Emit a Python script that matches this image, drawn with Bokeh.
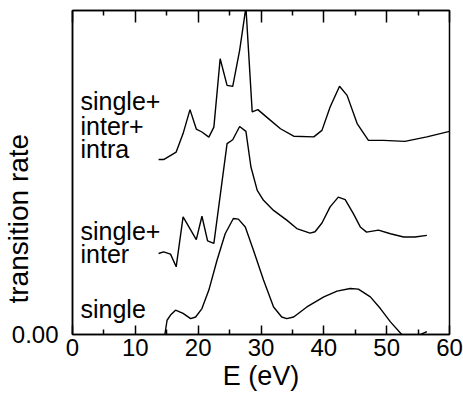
import math
from bokeh.plotting import figure
from bokeh.models import Range1d, LinearAxis, FixedTicker, Label, NumeralTickFormatter, Title
from bokeh.embed import file_html
from bokeh.resources import INLINE

# --- data ---
e_single = [14.7, 15.05, 15.6, 16.4, 17.6, 18.8, 19.6, 20.6, 21.7, 23.0, 24.3, 25.6, 26.4,
            27.5, 28.8, 30.4, 32.0, 33.3, 34.1, 35.2, 37.3, 40.0, 42.1, 44.2, 45.5, 47.4,
            49.0, 50.6, 52.4, 54.0, 55.4, 56.4]
r_single = [0.0, 4.4, 6.0, 7.5, 6.5, 4.9, 5.4, 8.0, 13.7, 22.9, 31.1, 35.8, 35.6,
            33.2, 26.0, 16.8, 8.5, 5.4, 4.9, 5.4, 8.5, 11.6, 13.4, 14.2, 14.0, 11.6,
            8.0, 3.9, 0.0, -2.0, 0.0, 0.9]

e_inter = [13.7, 14.5, 15.6, 16.5, 17.6, 19.7, 20.6, 21.5, 22.5, 24.6, 25.5, 26.6, 27.6,
           28.4, 29.4, 30.4, 32.0, 34.1, 35.7, 37.8, 38.6, 39.7, 41.0, 42.3, 43.4, 44.7,
           45.8, 46.8, 48.7, 50.6, 52.7, 54.5, 56.4]
r_inter = [25.0, 25.5, 24.8, 20.9, 36.3, 29.3, 36.5, 28.9, 28.1, 58.9, 60.1, 64.2, 62.7,
           51.7, 44.5, 41.4, 38.3, 35.3, 32.7, 31.3, 31.7, 34.4, 39.4, 42.4, 41.6, 37.3,
           33.2, 31.6, 32.2, 31.1, 30.1, 30.1, 30.6]

e_intra = [13.7, 14.5, 16.5, 17.6, 18.7, 19.7, 20.6, 21.7, 22.5, 23.5, 24.6, 25.5, 26.6,
           27.6, 28.6, 29.5, 30.9, 33.1, 35.2, 38.4, 39.7, 41.0, 42.5, 43.7, 45.3, 47.1,
           49.5, 52.9, 56.4, 60.0]
r_intra = [54.0, 54.0, 56.3, 62.0, 69.4, 63.4, 62.5, 60.9, 64.0, 85.1, 76.9, 76.6, 87.7,
           101.0, 68.7, 69.4, 67.1, 63.5, 61.2, 61.0, 63.0, 70.2, 76.6, 73.8, 65.1, 59.9,
           59.9, 59.6, 61.0, 62.7]

x_ticks = [0, 10, 20, 30, 40, 50, 60]
x_minor = [5, 15, 25, 35, 45, 55]
y_ticks = [0]

labels = [("single+", 72.2), ("inter+", 64.5), ("intra", 57.1),
          ("single+", 31.9), ("inter", 24.7), ("single", 8.0)]
label_x = 1.27

FONT = "Liberation Sans"

p = figure(width=463, height=400, output_backend="svg", toolbar_location=None,
           x_range=Range1d(0, 60), y_range=Range1d(0, 100),
           min_border_left=72, min_border_right=14, min_border_top=10, min_border_bottom=66,
           x_axis_type=None, y_axis_type=None)
p.grid.visible = False
p.outline_line_color = "black"
p.outline_line_width = 1.5
p.background_fill_color = "white"
p.border_fill_color = "white"

for xs, ys in [(e_single, r_single), (e_inter, r_inter), (e_intra, r_intra)]:
    p.line(xs, ys, line_color="black", line_width=1.4)

def style_x(ax, tick_in, show_labels):
    ax.ticker = FixedTicker(ticks=x_ticks, minor_ticks=x_minor)
    ax.axis_line_color = "black"
    ax.axis_line_width = 1.5
    ax.major_tick_line_color = "black"
    ax.major_tick_line_width = 1.5
    ax.minor_tick_line_color = "black"
    ax.minor_tick_line_width = 1.5
    ax.major_tick_out = 0
    ax.major_tick_in = tick_in
    ax.minor_tick_out = 0
    ax.minor_tick_in = 5
    if show_labels:
        ax.major_label_text_font = FONT
        ax.major_label_text_font_size = "24px"
        ax.major_label_text_color = "black"
        ax.major_label_standoff = 4
    else:
        ax.major_label_text_font_size = "0px"
        ax.major_label_text_color = None
        ax.major_label_standoff = 0

xb = LinearAxis()
style_x(xb, 9, True)
xb.axis_label = "E (eV)"
xb.axis_label_text_font = FONT
xb.axis_label_text_font_style = "normal"
xb.axis_label_text_font_size = "27px"
xb.axis_label_text_color = "black"
xb.axis_label_standoff = 2
p.add_layout(xb, "below")

xt = LinearAxis()
style_x(xt, 12, False)
p.add_layout(xt, "above")

yl = LinearAxis()
yl.ticker = FixedTicker(ticks=y_ticks)
yl.formatter = NumeralTickFormatter(format="0.00")
yl.axis_line_color = "black"
yl.axis_line_width = 1.5
yl.major_tick_out = 0
yl.major_tick_in = 0
yl.minor_tick_out = 0
yl.minor_tick_in = 0
yl.major_label_text_font = FONT
yl.major_label_text_font_size = "24px"
yl.major_label_text_color = "black"
yl.major_label_standoff = 14
p.add_layout(yl, "left")

ytitle = Title(text="transition rate", align="left", offset=31, standoff=-50,
               text_font=FONT, text_font_size="28px", text_font_style="normal",
               text_color="black")
p.add_layout(ytitle, "left")

for txt, yy in labels:
    p.add_layout(Label(x=label_x, y=yy, text=txt, text_align="left",
                       text_baseline="alphabetic", text_font=FONT,
                       text_font_size="25px", text_color="black"))

open("out.html", "w").write(file_html(p, INLINE))
